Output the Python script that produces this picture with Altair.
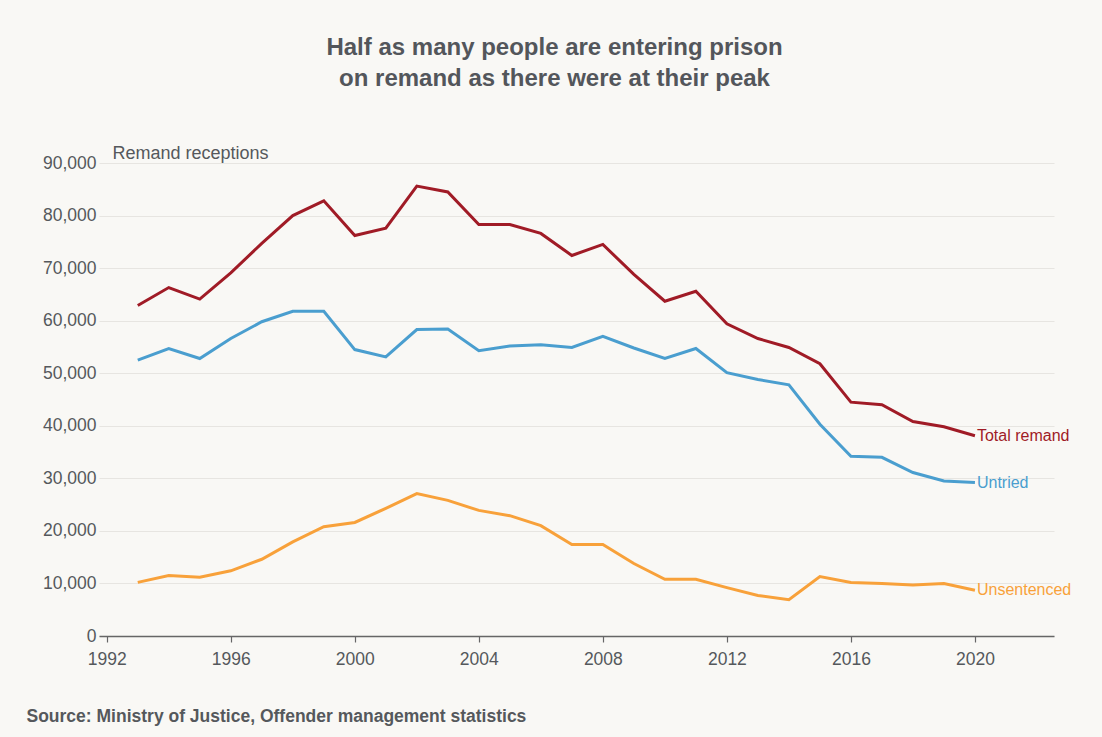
import altair as alt
import pandas as pd

years = list(range(1993, 2021))
total_remand = [62900, 66300, 64100, 69100, 74700, 80000, 82800, 76200, 77600, 85600,
                84500, 78300, 78300, 76600, 72400, 74500, 68800, 63700, 65600, 59400,
                56600, 54900, 51800, 44500, 44000, 40800, 39800, 38100]
untried = [52500, 54700, 52800, 56600, 59800, 61800, 61800, 54500, 53100, 58300,
           58400, 54300, 55200, 55400, 54900, 57000, 54800, 52800, 54700, 50100,
           48800, 47800, 40300, 34200, 34000, 31100, 29500, 29200]
unsentenced = [10200, 11500, 11200, 12400, 14600, 17900, 20800, 21600, 24300, 27100,
               25800, 23900, 22900, 21000, 17400, 17400, 13800, 10800, 10800, 9200,
               7700, 6900, 11300, 10200, 10000, 9700, 10000, 8700]
series_names = ["Total remand", "Untried", "Unsentenced"]
series_colors = ["#a01b26", "#4a9ecf", "#f8a13a"]
x_ticks = [1992, 1996, 2000, 2004, 2008, 2012, 2016, 2020]
y_ticks = [0, 10000, 20000, 30000, 40000, 50000, 60000, 70000, 80000, 90000]

rows = []
for name, vals in zip(series_names, [total_remand, untried, unsentenced]):
    for y, v in zip(years, vals):
        rows.append({"year": y, "value": v, "series": name})
df = pd.DataFrame(rows)

FONT = "Liberation Sans"
GREY = "#55585c"

color = alt.Color("series:N", scale=alt.Scale(domain=series_names, range=series_colors), legend=None)

x = alt.X("year:Q",
          scale=alt.Scale(domain=[1991.75, 2022.55], nice=False, zero=False),
          axis=alt.Axis(values=x_ticks, format="d", grid=False,
                        domainColor="#666666", domainWidth=1.5,
                        tickColor="#666666", tickSize=6, tickWidth=1.2,
                        labelFontSize=17.5, labelColor=GREY, labelPadding=8, labelFont=FONT,
                        title="Source: Ministry of Justice, Offender management statistics",
                        titleFont=FONT, titleFontSize=17.5, titleFontWeight="bold",
                        titleColor=GREY, titleAnchor="start", titleAlign="left",
                        titleX=-73, titleY=80, titleBaseline="middle"))
y = alt.Y("value:Q",
          scale=alt.Scale(domain=[0, 90000], nice=False),
          axis=alt.Axis(values=y_ticks, format=",.0f", domain=False, ticks=False,
                        gridColor="#e7e5e1", gridWidth=1,
                        labelFontSize=17.5, labelColor=GREY, labelPadding=3, labelFont=FONT,
                        title="Remand receptions", titleAngle=0, titleFont=FONT,
                        titleFontSize=18, titleFontWeight="normal", titleColor=GREY,
                        titleAlign="left", titleBaseline="alphabetic",
                        titleX=13, titleY=-5))

lines = alt.Chart(df).mark_line(strokeWidth=3).encode(x=x, y=y, color=color)
labels = alt.Chart(df).transform_filter(alt.datum.year == 2020).mark_text(
    align="left", baseline="middle", dx=2, fontSize=16, font=FONT
).encode(x="year:Q", y="value:Q", text="series:N", color=color)

chart = (lines + labels).properties(
    width=955, height=473,
    title=alt.TitleParams(
        text=["Half as many people are entering prison", "on remand as there were at their peak"],
        anchor="middle", dx=-22, fontSize=24, fontWeight="bold", color="#53565b",
        font=FONT, lineHeight=31, offset=53),
    background="#f9f8f5",
    padding={"left": 99, "top": 163, "right": 48, "bottom": 101},
    autosize=alt.AutoSizeParams(type="none"),
).configure_view(stroke=None)

chart.save("out.html", embed_options={"renderer": "svg", "actions": False})
